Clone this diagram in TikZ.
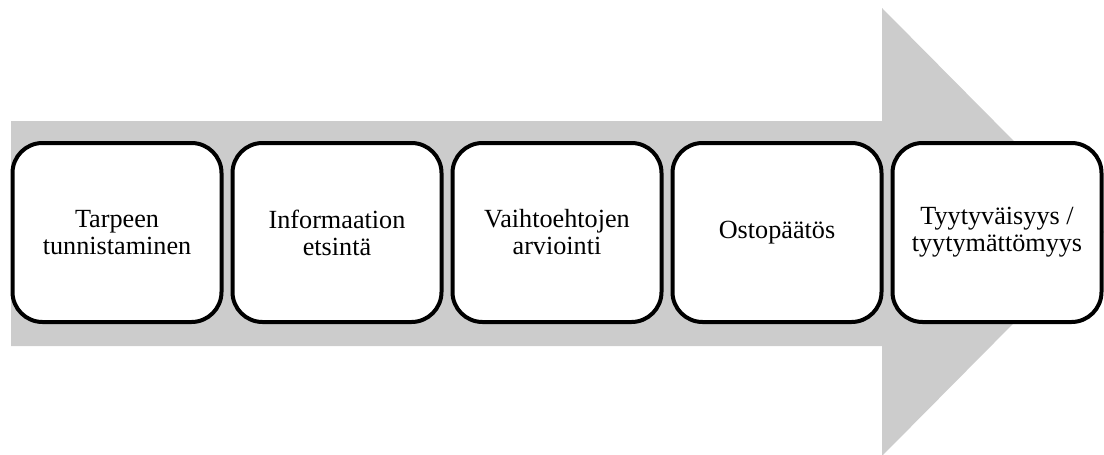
\documentclass[tikz,border=0pt]{standalone}
\usepackage{fontspec}
\setmainfont{Liberation Serif}
\usetikzlibrary{positioning}
\definecolor{arrowgray}{RGB}{204,204,204}
\tikzset{
    stagebox/.style={draw=black, fill=white, line width=4pt, rounded corners=30pt,
        minimum width=209pt, minimum height=179pt, align=center,
        font=\fontsize{26.2}{27}\selectfont}
}
\begin{document}
\begin{tikzpicture}[x=1pt, y=-1pt]
        \useasboundingbox (0, 0) rectangle (1104, 455);

        % big arrow behind the boxes
        \fill[arrowgray] (11, 121) -- (882, 121) -- (882, 8) -- (1104, 232)
            -- (882, 456) -- (882, 346) -- (11, 346) -- cycle;

        % stages
        \node[stagebox] (need) at (117, 232.5) {Tarpeen\\tunnistaminen};
        \node[stagebox, right=7pt of need] (info) {Informaation\\etsintä};
        \node[stagebox, right=7pt of info] (eval) {Vaihtoehtojen\\arviointi};
        \node[stagebox, right=7pt of eval] (buy) {Ostopäätös};
        \node[stagebox, right=7pt of buy] (after) {Tyytyväisyys /\\tyytymättömyys};
    \end{tikzpicture}
\end{document}
